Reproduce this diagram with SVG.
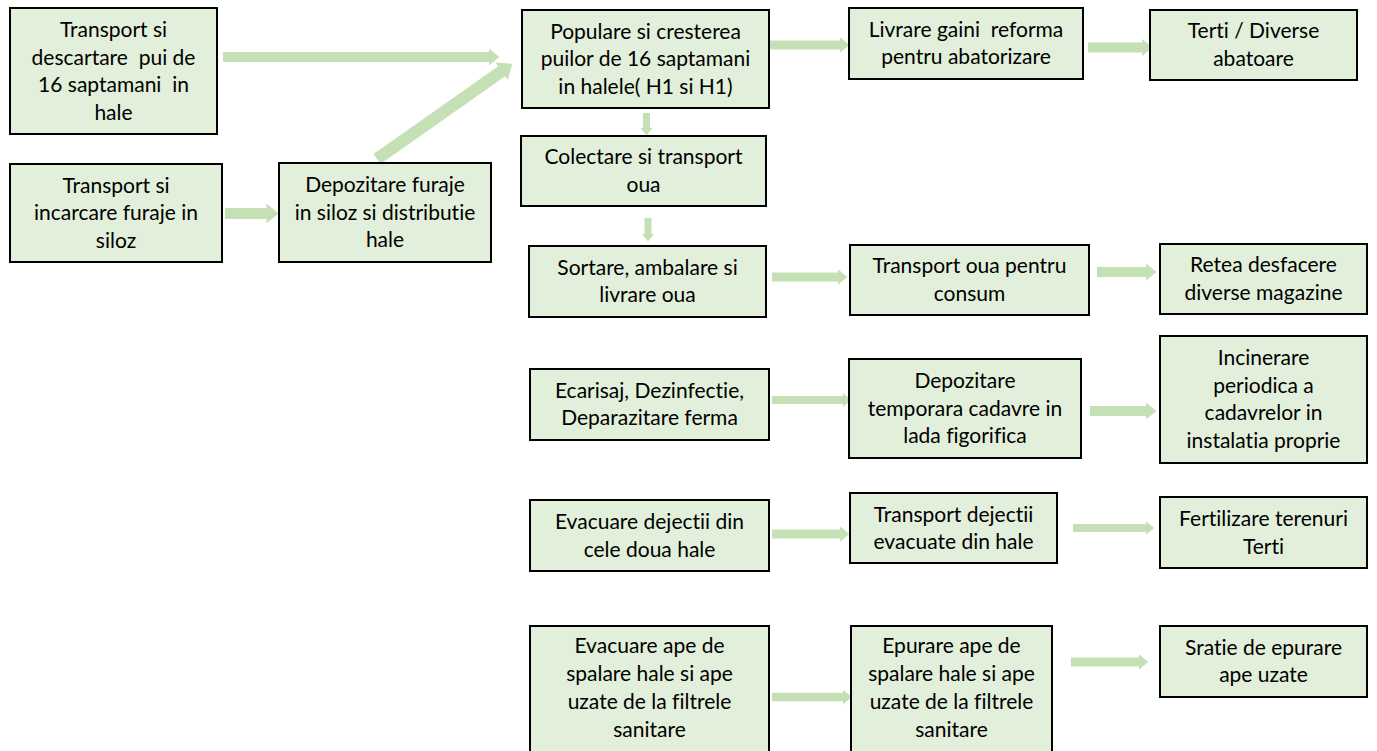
<svg xmlns="http://www.w3.org/2000/svg" width="1377" height="751" viewBox="0 0 1377 751">
<style>
.box{fill:#e2efda;stroke:#000;stroke-width:2}
.t{font-family:Lato,"Liberation Sans",sans-serif;font-size:21px;fill:#000;text-anchor:middle;white-space:pre;font-variant-ligatures:none;font-feature-settings:"liga" 0}
.c{stroke:#c5e0b4;fill:none;stroke-linecap:butt}
</style>
<defs>
<marker id="ah" viewBox="0 0 11 18" refX="0.5" refY="9" markerWidth="1.1" markerHeight="1.8" markerUnits="strokeWidth" orient="auto">
<path d="M0,0 L11,9 L0,18 Z" fill="#c5e0b4"/>
</marker>
</defs>
<rect width="1377" height="751" fill="#fff"/>
<g id="connectors">
<line class="c" x1="223" y1="57" x2="489" y2="57" stroke-width="10" marker-end="url(#ah)"/>
<line class="c" x1="377" y1="159" x2="502" y2="71" stroke-width="12" marker-end="url(#ah)"/>
<line class="c" x1="225" y1="213.5" x2="267" y2="213.5" stroke-width="11" marker-end="url(#ah)"/>
<line class="c" x1="646.5" y1="113" x2="646.5" y2="128" stroke-width="7" marker-end="url(#ah)"/>
<line class="c" x1="648" y1="218" x2="648" y2="234" stroke-width="7" marker-end="url(#ah)"/>
<line class="c" x1="770" y1="45" x2="840" y2="45" stroke-width="9" marker-end="url(#ah)"/>
<line class="c" x1="1088" y1="47.5" x2="1142" y2="47.5" stroke-width="10" marker-end="url(#ah)"/>
<line class="c" x1="772" y1="277" x2="838" y2="277" stroke-width="9" marker-end="url(#ah)"/>
<line class="c" x1="1097" y1="272" x2="1146" y2="272" stroke-width="10" marker-end="url(#ah)"/>
<line class="c" x1="772" y1="400" x2="843" y2="400" stroke-width="8" marker-end="url(#ah)"/>
<line class="c" x1="1090" y1="411" x2="1146" y2="411" stroke-width="10" marker-end="url(#ah)"/>
<line class="c" x1="772" y1="534" x2="840" y2="534" stroke-width="9" marker-end="url(#ah)"/>
<line class="c" x1="1073" y1="528" x2="1146" y2="528" stroke-width="8" marker-end="url(#ah)"/>
<line class="c" x1="772" y1="697" x2="843" y2="697" stroke-width="8.5" marker-end="url(#ah)"/>
<line class="c" x1="1071" y1="662" x2="1139" y2="662" stroke-width="9" marker-end="url(#ah)"/>
</g>
<g id="n1"><rect class="box" x="10" y="8" width="207" height="126"/>
<text class="t" xml:space="preserve"><tspan x="113.5" y="37">Transport si</tspan><tspan x="113.5" y="64.5">descartare  pui de</tspan><tspan x="113.5" y="92">16 saptamani  in</tspan><tspan x="113.5" y="119.5">hale</tspan></text></g>
<g id="n2"><rect class="box" x="10" y="164" width="212" height="98"/>
<text class="t"><tspan x="116" y="192.5">Transport si</tspan><tspan x="116" y="220">incarcare furaje in</tspan><tspan x="116" y="247.5">siloz</tspan></text></g>
<g id="n3"><rect class="box" x="279" y="163" width="212" height="99"/>
<text class="t"><tspan x="385" y="192">Depozitare furaje</tspan><tspan x="385" y="219.5">in siloz si distributie</tspan><tspan x="385" y="247">hale</tspan></text></g>
<g id="n4"><rect class="box" x="522" y="10" width="247" height="98"/>
<text class="t"><tspan x="645.5" y="38.5">Populare si cresterea</tspan><tspan x="645.5" y="66">puilor de 16 saptamani</tspan><tspan x="645.5" y="93.5">in halele( H1 si H1)</tspan></text></g>
<g id="n5"><rect class="box" x="521" y="136" width="245" height="70"/>
<text class="t"><tspan x="643.5" y="164">Colectare si transport</tspan><tspan x="643.5" y="191.5">oua</tspan></text></g>
<g id="n6"><rect class="box" x="529" y="246" width="237" height="71"/>
<text class="t"><tspan x="647.5" y="274.5">Sortare, ambalare si</tspan><tspan x="647.5" y="302">livrare oua</tspan></text></g>
<g id="n7"><rect class="box" x="849" y="8" width="234" height="71"/>
<text class="t" xml:space="preserve"><tspan x="966" y="36.5">Livrare gaini  reforma</tspan><tspan x="966" y="64">pentru abatorizare</tspan></text></g>
<g id="n8"><rect class="box" x="1150" y="10" width="207" height="70"/>
<text class="t"><tspan x="1253.5" y="38">Terti / Diverse</tspan><tspan x="1253.5" y="65.5">abatoare</tspan></text></g>
<g id="n9"><rect class="box" x="850" y="245" width="239" height="70"/>
<text class="t"><tspan x="969.5" y="273">Transport oua pentru</tspan><tspan x="969.5" y="300.5">consum</tspan></text></g>
<g id="n10"><rect class="box" x="1160" y="244" width="207" height="70"/>
<text class="t"><tspan x="1263.5" y="272">Retea desfacere</tspan><tspan x="1263.5" y="299.5">diverse magazine</tspan></text></g>
<g id="n11"><rect class="box" x="530" y="369" width="239" height="71"/>
<text class="t"><tspan x="649.5" y="397.5">Ecarisaj, Dezinfectie,</tspan><tspan x="649.5" y="425">Deparazitare ferma</tspan></text></g>
<g id="n12"><rect class="box" x="849" y="359" width="232" height="99"/>
<text class="t"><tspan x="965" y="388">Depozitare</tspan><tspan x="965" y="415.5">temporara cadavre in</tspan><tspan x="965" y="443">lada figorifica</tspan></text></g>
<g id="n13"><rect class="box" x="1160" y="336" width="207" height="127"/>
<text class="t"><tspan x="1263.5" y="365">Incinerare</tspan><tspan x="1263.5" y="392.5">periodica a</tspan><tspan x="1263.5" y="420">cadavrelor in</tspan><tspan x="1263.5" y="447.5">instalatia proprie</tspan></text></g>
<g id="n14"><rect class="box" x="530" y="500" width="239" height="71"/>
<text class="t"><tspan x="649.5" y="529">Evacuare dejectii din</tspan><tspan x="649.5" y="556.5">cele doua hale</tspan></text></g>
<g id="n15"><rect class="box" x="850" y="493" width="207" height="70"/>
<text class="t"><tspan x="953.5" y="521.5">Transport dejectii</tspan><tspan x="953.5" y="549">evacuate din hale</tspan></text></g>
<g id="n16"><rect class="box" x="1160" y="497" width="207" height="71"/>
<text class="t"><tspan x="1263.5" y="526">Fertilizare terenuri</tspan><tspan x="1263.5" y="553.5">Terti</tspan></text></g>
<g id="n17"><rect class="box" x="530" y="626" width="239" height="140"/>
<text class="t"><tspan x="649.5" y="653">Evacuare ape de</tspan><tspan x="649.5" y="681">spalare hale si ape</tspan><tspan x="649.5" y="709">uzate de la filtrele</tspan><tspan x="649.5" y="737">sanitare</tspan></text></g>
<g id="n18"><rect class="box" x="851" y="626" width="201" height="140"/>
<text class="t"><tspan x="951.5" y="653">Epurare ape de</tspan><tspan x="951.5" y="681">spalare hale si ape</tspan><tspan x="951.5" y="709">uzate de la filtrele</tspan><tspan x="951.5" y="737">sanitare</tspan></text></g>
<g id="n19"><rect class="box" x="1160" y="626" width="207" height="71"/>
<text class="t"><tspan x="1263.5" y="654.5">Sratie de epurare</tspan><tspan x="1263.5" y="682">ape uzate</tspan></text></g>
</svg>
